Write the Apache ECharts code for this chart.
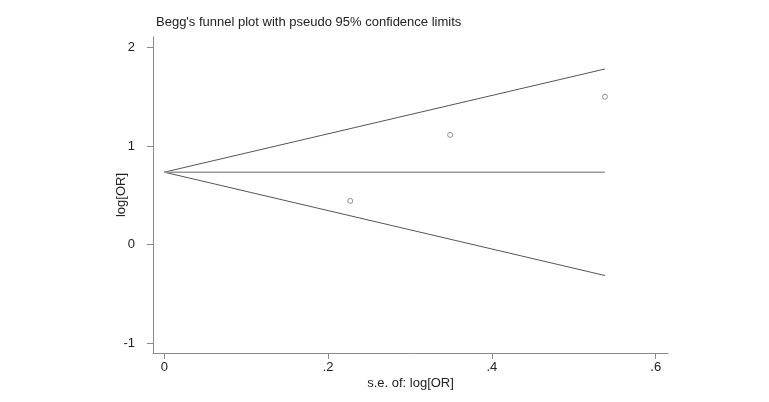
<!DOCTYPE html>
<html>
<head>
<meta charset="utf-8">
<script src="https://cdn.jsdelivr.net/npm/echarts@6/dist/echarts.min.js"></script>
<style>html,body{margin:0;padding:0;background:#fff}#c{width:769px;height:402px}</style>
</head>
<body>
<div id="c"></div>
<script>
// Study points: standard error and log odds ratio
const seValues = [0.227, 0.349, 0.538];
const logOR = [0.444, 1.115, 1.502];
// Funnel lines (endpoints)
const upperLine = [[0, 0.736], [0.538, 1.784]];
const centerLine = [[0, 0.736], [0.538, 0.736]];
const lowerLine = [[0, 0.736], [0.538, -0.314]];
// Tick values
const xTicks = [0, 0.2, 0.4, 0.6];
const yTicks = [-1, 0, 1, 2];

const chart = echarts.init(document.getElementById('c'));
const font = 'Liberation Sans, Arial, Helvetica, sans-serif';
const axisCol = '#8a8a8a';
chart.setOption({
  animation: false,
  backgroundColor: '#fff',
  title: {
    text: "Begg's funnel plot with pseudo 95% confidence limits",
    left: 151, top: 11,
    textStyle: {fontFamily: font, fontSize: 13, fontWeight: 'normal', color: '#222'}
  },
  grid: {left: 153, right: 101, top: 37, bottom: 49},
  xAxis: {
    type: 'value', min: -0.0138, max: 0.615,
    name: 's.e. of: log[OR]', nameLocation: 'middle', nameGap: 24, nameMoveOverlap: false,
    nameTextStyle: {fontFamily: font, fontSize: 13, color: '#222'},
    axisLine: {onZero: false, lineStyle: {color: axisCol, width: 1}},
    axisTick: {customValues: xTicks, length: 6, lineStyle: {color: axisCol}},
    axisLabel: {customValues: xTicks, margin: 8, fontFamily: font, fontSize: 13, color: '#222',
      formatter: v => v === 0 ? '0' : String(+v.toFixed(2)).replace(/^0\./, '.').replace(/^-0\./, '-.')},
    splitLine: {show: false}
  },
  yAxis: {
    type: 'value', min: -1.101, max: 2.109,
    name: 'log[OR]', nameLocation: 'middle', nameGap: 25, nameRotate: 90, nameMoveOverlap: false,
    nameTextStyle: {fontFamily: font, fontSize: 13, color: '#222'},
    axisLine: {show: true, onZero: false, lineStyle: {color: axisCol, width: 1}},
    axisTick: {show: true, customValues: yTicks, length: 6, lineStyle: {color: axisCol}},
    axisLabel: {customValues: yTicks, margin: 18, fontFamily: font, fontSize: 13, color: '#222'},
    splitLine: {show: false}
  },
  series: [
    {type: 'line', data: upperLine, symbol: 'none', lineStyle: {color: '#555', width: 1}},
    {type: 'line', data: lowerLine, symbol: 'none', lineStyle: {color: '#555', width: 1}},
    {type: 'line', data: centerLine, symbol: 'none', lineStyle: {color: '#999', width: 1.5}},
    {type: 'scatter', data: seValues.map((s, i) => [s, logOR[i]]), symbol: 'circle', symbolSize: 5,
      z: 5, itemStyle: {color: '#fff', borderColor: '#777', borderWidth: 1}}
  ]
});
</script>
</body>
</html>
